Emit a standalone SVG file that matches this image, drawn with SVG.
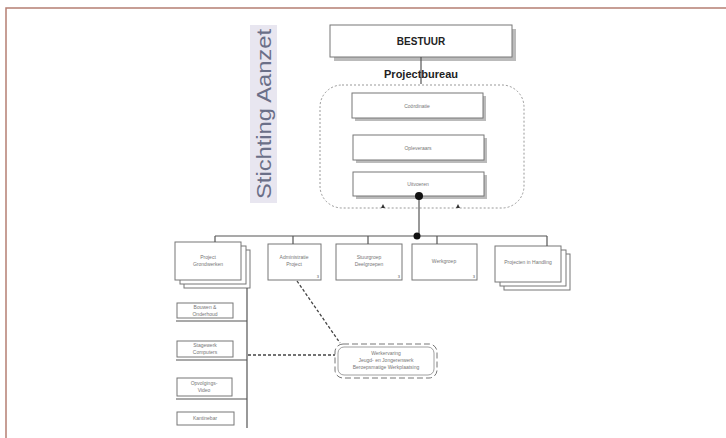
<svg xmlns="http://www.w3.org/2000/svg" width="726" height="438" viewBox="0 0 726 438">
<style>
.box{fill:#fff;stroke:#777;stroke-width:1}
.shadow{fill:#bbb}
.ln{stroke:#555;stroke-width:1.2;fill:none}
.dash{stroke:#444;stroke-width:1.3;stroke-dasharray:3 2;fill:none}
.t{font-family:"Liberation Sans",Arial,sans-serif;font-size:5px;fill:#777;text-anchor:middle}
.num{font-family:"Liberation Sans",Arial,sans-serif;font-size:4px;fill:#555;text-anchor:end}
</style>
<rect x="0" y="0" width="726" height="438" fill="#fff"/>
<path d="M6,438 V8 H726" fill="none" stroke="#b57f73" stroke-width="1.5"/>
<g id="title">
<rect x="250" y="25" width="27" height="178" fill="#e8e6f0"/>
<text transform="translate(271,114) rotate(-90)" font-family="Liberation Sans,Arial,sans-serif" font-size="21" fill="#6b6f88" text-anchor="middle" textLength="170" lengthAdjust="spacingAndGlyphs">Stichting Aanzet</text>
</g>
<g id="bestuur">
<rect class="shadow" x="334" y="29" width="182" height="32"/>
<rect class="box" x="330" y="25" width="182" height="32"/>
<text x="421" y="45" font-family="Liberation Sans,Arial,sans-serif" font-size="10" font-weight="bold" fill="#222" text-anchor="middle">BESTUUR</text>
</g>
<g id="projectbureau">
<text x="421" y="78" font-family="Liberation Sans,Arial,sans-serif" font-size="11" font-weight="bold" fill="#222" text-anchor="middle">Projectbureau</text>
<rect x="320" y="85" width="204" height="123" rx="22" fill="none" stroke="#999" stroke-width="1" stroke-dasharray="2 2"/>
</g>
<g id="coordinatie">
<rect class="shadow" x="355" y="96" width="131" height="25"/>
<rect class="box" x="352" y="93" width="131" height="25"/>
<text class="t" x="417" y="108">Coördinatie</text>
</g>
<g id="opleveraars">
<rect class="shadow" x="356" y="138" width="131" height="25"/>
<rect class="box" x="353" y="135" width="131" height="25"/>
<text class="t" x="418" y="150">Opleveraars</text>
</g>
<g id="uitvoeren">
<rect class="shadow" x="356" y="175" width="131" height="24"/>
<rect class="box" x="353" y="172" width="131" height="24"/>
<text class="t" x="418" y="186">Uitvoeren</text>
</g>
<g id="project-grondwerken">
<rect class="box" x="184" y="250" width="66" height="38"/>
<rect class="box" x="180" y="246" width="66" height="38"/>
<rect class="box" x="175" y="242" width="66" height="38"/>
<text class="t" x="208" y="259">Project</text>
<text class="t" x="208" y="266">Grondwerken</text>
</g>
<g id="administratie">
<rect class="box" x="268" y="244" width="53" height="36"/>
<text class="t" x="294" y="259">Administratie</text>
<text class="t" x="294" y="266">Project</text>
<text class="num" x="319" y="278">3</text>
</g>
<g id="stuurgroep">
<rect class="box" x="336" y="244" width="66" height="36"/>
<text class="t" x="369" y="259">Stuurgroep</text>
<text class="t" x="369" y="266">Deelgroepen</text>
<text class="num" x="400" y="278">3</text>
</g>
<g id="werkgroep">
<rect class="box" x="412" y="244" width="65" height="36"/>
<text class="t" x="444" y="263">Werkgroep</text>
<text class="num" x="475" y="278">3</text>
</g>
<g id="projecten-handling">
<rect class="box" x="504" y="254" width="66" height="36"/>
<rect class="box" x="500" y="250" width="66" height="36"/>
<rect class="box" x="495" y="246" width="66" height="36"/>
<text class="t" x="528" y="264">Projecten in Handling</text>
</g>
<g id="bouwen">
<rect class="box" x="177" y="303" width="56" height="15"/>
<text class="t" x="205" y="309">Bouwen &amp;</text>
<text class="t" x="205" y="316">Onderhoud</text>
</g>
<g id="stagewerk">
<rect class="box" x="177" y="341" width="56" height="16"/>
<text class="t" x="205" y="347">Stagewerk</text>
<text class="t" x="205" y="354">Computers</text>
</g>
<g id="opvolging">
<rect class="box" x="177" y="378" width="55" height="18"/>
<text class="t" x="204" y="385">Opvolgings-</text>
<text class="t" x="204" y="392">Video</text>
</g>
<g id="kantine">
<rect class="box" x="177" y="412" width="57" height="13"/>
<text class="t" x="205" y="420">Kantinebar</text>
</g>
<g id="werkervaring">
<rect x="335" y="344" width="102" height="34" rx="8" fill="#fff" stroke="#777" stroke-width="1" stroke-dasharray="6 3"/>
<rect x="338" y="347" width="96" height="28" rx="6" fill="none" stroke="#888" stroke-width="0.8"/>
<text class="t" x="386" y="355">Werkervaring</text>
<text class="t" x="386" y="362">Jeugd- en Jongerenwerk</text>
<text class="t" x="386" y="369">Beroepsmatige Werkplaatsing</text>
</g>
<g id="connectors">
<line class="ln" x1="421" y1="57" x2="421" y2="84"/>
<path class="ln" d="M419,196 V236"/>
<path class="ln" d="M215,236 H547 M215,236 V242 M293,236 V244 M368,236 V244 M437,236 V244 M547,236 V246"/>
<circle cx="419" cy="196" r="4" fill="#111"/>
<circle cx="417" cy="236" r="3.5" fill="#111"/>
<path d="M383,204 l-2,4 h4z M458,204 l-2,4 h4z" fill="#333"/>
<path class="ln" d="M247,288 V428 M176,321 H247 M176,360 H247 M176,399 H247"/>
<line class="dash" x1="248" y1="355" x2="335" y2="355"/>
<line class="dash" x1="297" y1="281" x2="340" y2="343"/>
</g>
</svg>
